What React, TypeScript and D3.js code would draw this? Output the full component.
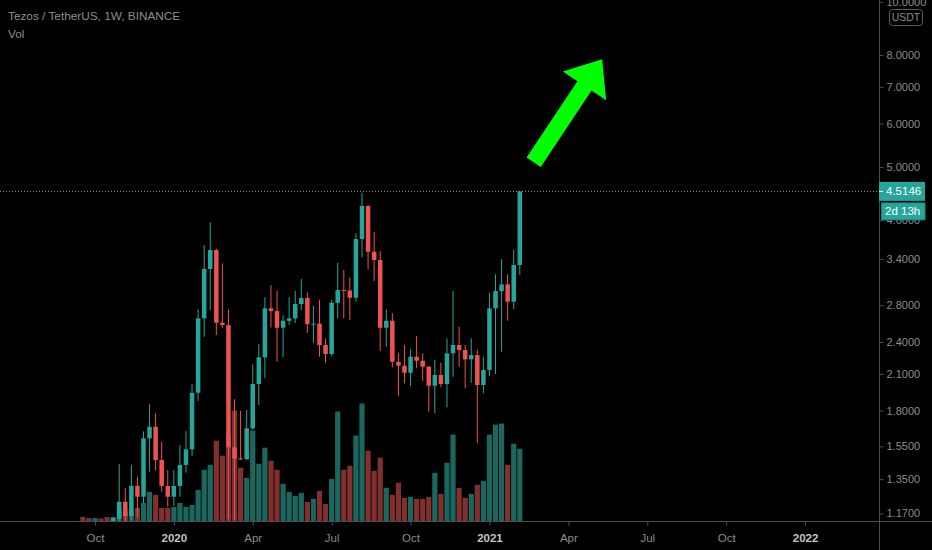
import React, { useEffect, useRef } from 'react';
import * as d3 from 'd3';

const W = 932;
const H = 550;

// weekly bars (Binance XTZ/USDT, 1W)
const weeks = [
  '2019-09-23', '2019-09-30', '2019-10-07', '2019-10-14', '2019-10-21', '2019-10-28', '2019-11-04', '2019-11-11',
  '2019-11-18', '2019-11-25', '2019-12-02', '2019-12-09', '2019-12-16', '2019-12-23', '2019-12-30', '2020-01-06',
  '2020-01-13', '2020-01-20', '2020-01-27', '2020-02-03', '2020-02-10', '2020-02-17', '2020-02-24', '2020-03-02',
  '2020-03-09', '2020-03-16', '2020-03-23', '2020-03-30', '2020-04-06', '2020-04-13', '2020-04-20', '2020-04-27',
  '2020-05-04', '2020-05-11', '2020-05-18', '2020-05-25', '2020-06-01', '2020-06-08', '2020-06-15', '2020-06-22',
  '2020-06-29', '2020-07-06', '2020-07-13', '2020-07-20', '2020-07-27', '2020-08-03', '2020-08-10', '2020-08-17',
  '2020-08-24', '2020-08-31', '2020-09-07', '2020-09-14', '2020-09-21', '2020-09-28', '2020-10-05', '2020-10-12',
  '2020-10-19', '2020-10-26', '2020-11-02', '2020-11-09', '2020-11-16', '2020-11-23', '2020-11-30', '2020-12-07',
  '2020-12-14', '2020-12-21', '2020-12-28', '2021-01-04', '2021-01-11', '2021-01-18', '2021-01-25', '2021-02-01',
  '2021-02-08',
];
const opens = [
  1.05, 0.98, 0.93, 0.99, 0.91, 0.88, 1.145, 1.228, 1.157, 1.313, 1.254, 1.602, 1.682, 1.463, 1.312, 1.254,
  1.312, 1.433, 1.53, 1.94, 2.651, 3.26, 3.53, 2.602, 2.577, 1.543, 1.473, 1.468, 1.671, 2.012, 2.251, 2.764,
  2.733, 2.548, 2.624, 2.651, 2.815, 2.886, 2.588, 2.592, 2.37, 2.282, 2.83, 2.985, 2.98, 2.89, 3.697, 4.246,
  3.505, 3.385, 2.548, 2.624, 2.209, 2.173, 2.11, 2.256, 2.219, 2.164, 1.998, 2.09, 2.012, 2.289, 2.37, 2.321,
  2.232, 2.272, 2.004, 2.134, 2.764, 2.972, 3.057, 2.842, 3.315,
];
const highs = [
  1.10, 1.03, 1.05, 1.02, 0.98, 1.15, 1.44, 1.30, 1.433, 1.364, 1.65, 1.848, 1.78, 1.58, 1.403, 1.403,
  1.558, 1.652, 2.012, 2.753, 3.605, 3.965, 3.55, 3.338, 2.753, 1.887, 1.799, 1.804, 2.186, 2.38, 2.895, 3.048,
  2.976, 2.685, 2.895, 2.976, 3.126, 2.956, 2.791, 2.862, 2.437, 2.862, 3.347, 3.246, 3.148, 3.786, 4.49, 4.26,
  3.812, 3.515, 2.753, 2.707, 2.294, 2.37, 2.328, 2.461, 2.289, 2.17, 2.225, 2.2, 2.437, 2.972, 2.559, 2.37,
  2.437, 2.321, 2.256, 2.951, 3.188, 3.395, 3.188, 3.53, 4.5146,
];
const lows = [
  0.93, 0.89, 0.90, 0.87, 0.82, 0.86, 1.10, 1.10, 1.137, 1.15, 1.22, 1.393, 1.40, 1.281, 1.203, 1.206,
  1.254, 1.387, 1.488, 1.874, 2.454, 2.745, 2.471, 2.55, 1.141, 1.137, 1.463, 1.462, 1.66, 1.843, 2.061, 2.55,
  2.209, 2.256, 2.577, 2.60, 2.745, 2.495, 2.393, 2.256, 2.20, 2.26, 2.651, 2.651, 2.632, 2.844, 3.424, 3.256,
  3.10, 2.311, 2.353, 2.158, 1.913, 2.018, 1.995, 2.149, 2.04, 1.792, 1.78, 1.985, 1.825, 2.075, 2.164, 1.976,
  2.023, 1.569, 1.935, 2.081, 2.099, 2.304, 2.624, 2.754, 3.179,
];
const closes = [
  0.98, 0.93, 0.99, 0.91, 0.88, 1.145, 1.228, 1.157, 1.313, 1.254, 1.602, 1.682, 1.463, 1.312, 1.254, 1.312,
  1.433, 1.53, 1.94, 2.651, 3.26, 3.53, 2.602, 2.577, 1.543, 1.473, 1.468, 1.671, 2.012, 2.251, 2.764, 2.733,
  2.548, 2.624, 2.651, 2.815, 2.886, 2.588, 2.592, 2.37, 2.282, 2.83, 2.985, 2.98, 2.89, 3.697, 4.246, 3.505,
  3.385, 2.548, 2.624, 2.209, 2.173, 2.11, 2.256, 2.219, 2.164, 1.998, 2.09, 2.012, 2.289, 2.37, 2.321, 2.232,
  2.272, 2.004, 2.134, 2.764, 2.972, 3.057, 2.842, 3.315, 4.5146,
];
// volume, millions XTZ (approx.)
const volumes = [
  4, 3, 3, 2.5, 4, 4, 12, 9, 12, 13, 18, 29, 26, 13, 13, 14,
  18, 14, 16, 31, 51, 56, 80, 65, 85, 110, 53, 43, 90, 57, 73, 60,
  51, 37, 29, 25, 28, 19, 22, 30, 17, 42, 109, 51, 55, 85, 117, 70,
  50, 63, 33, 26, 38, 23, 24, 22, 22, 24, 48, 27, 58, 86, 33, 23,
  27, 36, 40, 86, 96, 97, 56, 77, 72,
];

const priceTicks = [10, 8, 7, 6, 5, 4, 3.4, 2.8, 2.4, 2.1, 1.8, 1.55, 1.35, 1.17];
const timeTicks = ['2019-10-07', '2020-01-06', '2020-04-06', '2020-07-06', '2020-10-05', '2021-01-04', '2021-04-05', '2021-07-05', '2021-10-04', '2022-01-03'];
const timeTickLabels = ['Oct', '2020', 'Apr', 'Jul', 'Oct', '2021', 'Apr', 'Jul', 'Oct', '2022'];
const lastPrice = 4.5146;
const countdown = '2d 13h';
const arrowFrom = { date: '2021-02-24', price: 5.1 };
const arrowTo = { date: '2021-05-14', price: 7.86 };

const colors = { up: '#26a69a', down: '#ef5350', volUp: '#1b675f', volDown: '#82302d', axis: '#4a4d55', text: '#8c8c8c', arrow: '#00ff00' };
const font = "'Liberation Sans', Arial, sans-serif";

export default function App() {
  const ref = useRef<SVGSVGElement>(null);

  useEffect(() => {
    if (!ref.current) return;
    const svg = d3.select(ref.current);
    svg.selectAll('*').remove();

    const paneRight = 879;
    const paneBottom = 521;
    const parse = d3.utcParse('%Y-%m-%d');
    const bars = weeks.map((w, i) => ({ date: parse(w)!, o: opens[i], h: highs[i], l: lows[i], c: closes[i], v: volumes[i] }));

    const x = d3.scaleUtc().domain([bars[0].date, bars[bars.length - 1].date]).range([82.8, 519.8]);
    const y = d3.scaleLog().domain([1.17, 8]).range([513.3, 55]);
    const yv = d3.scaleLinear().domain([0, d3.max(bars, d => d.v)!]).range([paneBottom, paneBottom - 117.5]);

    svg.append('rect').attr('width', W).attr('height', H).attr('fill', '#000');
    svg.append('defs').append('clipPath').attr('id', 'pane').append('rect').attr('width', paneRight).attr('height', paneBottom);
    const pane = svg.append('g').attr('clip-path', 'url(#pane)');

    pane.selectAll('rect.vol').data(bars).enter().append('rect')
      .attr('x', d => x(d.date) - 2.6).attr('width', 5.2)
      .attr('y', d => yv(d.v)).attr('height', d => paneBottom - yv(d.v))
      .attr('fill', d => (d.c >= d.o ? colors.volUp : colors.volDown));

    pane.selectAll('line.wick').data(bars).enter().append('line')
      .attr('x1', d => x(d.date)).attr('x2', d => x(d.date))
      .attr('y1', d => y(d.h)).attr('y2', d => y(d.l))
      .attr('stroke', d => (d.c >= d.o ? colors.up : colors.down)).attr('stroke-width', 1);
    pane.selectAll('rect.body').data(bars).enter().append('rect')
      .attr('x', d => x(d.date) - 2.25).attr('width', 4.5)
      .attr('y', d => y(Math.max(d.o, d.c)))
      .attr('height', d => Math.max(1, Math.abs(y(d.o) - y(d.c))))
      .attr('fill', d => (d.c >= d.o ? colors.up : colors.down));

    // last price dotted line
    pane.append('line').attr('x1', 0).attr('x2', paneRight).attr('y1', y(lastPrice)).attr('y2', y(lastPrice))
      .attr('stroke', '#9a9ca3').attr('stroke-width', 1).attr('stroke-dasharray', '1,2');

    // arrow annotation
    const t = [x(parse(arrowFrom.date)!), y(arrowFrom.price)];
    const h = [x(parse(arrowTo.date)!), y(arrowTo.price)];
    const dx = h[0] - t[0], dy = h[1] - t[1], L = Math.hypot(dx, dy);
    const ux = dx / L, uy = dy / L, px = -uy, py = ux;
    const pt = (a: number, b: number) => `${t[0] + ux * a + px * b},${t[1] + uy * a + py * b}`;
    const headLen = 32, headW = 26, shaftW = 8.5;
    pane.append('polygon').attr('fill', colors.arrow).attr('points', [
      pt(0, -shaftW), pt(L - headLen, -shaftW), pt(L - headLen, -headW), pt(L, 0),
      pt(L - headLen, headW), pt(L - headLen, shaftW), pt(0, shaftW),
    ].join(' '));

    // borders
    svg.append('line').attr('x1', 0).attr('x2', W).attr('y1', paneBottom + 0.5).attr('y2', paneBottom + 0.5).attr('stroke', colors.axis);
    svg.append('line').attr('x1', paneRight + 0.5).attr('x2', paneRight + 0.5).attr('y1', 0).attr('y2', H).attr('stroke', colors.axis);

    const gx = svg.append('g').attr('transform', `translate(0,${paneBottom + 0.5})`)
      .call(d3.axisBottom(x).tickValues(timeTicks.map(s => parse(s)!)).tickSize(4).tickPadding(8).tickFormat((_, i) => timeTickLabels[i]))
      .attr('font-family', font).attr('font-size', 11.5);
    gx.select('.domain').remove();
    gx.selectAll('line').attr('stroke', colors.axis);
    gx.selectAll('text').attr('fill', (_, i) => (/^\d{4}$/.test(timeTickLabels[i]) ? '#c4c4c4' : colors.text))
      .attr('font-weight', (_, i) => (/^\d{4}$/.test(timeTickLabels[i]) ? 'bold' : 'normal'));

    const gy = svg.append('g').attr('transform', `translate(${paneRight + 0.5},0)`)
      .call(d3.axisRight(y).tickValues(priceTicks).tickSize(4).tickPadding(3).tickFormat(d3.format('.4f') as any))
      .attr('font-family', font).attr('font-size', 11);
    gy.select('.domain').remove();
    gy.selectAll('line').attr('stroke', colors.axis);
    gy.selectAll('text').attr('fill', colors.text);

    // currency badge
    svg.append('rect').attr('x', 889.5).attr('y', 9.5).attr('width', 33).attr('height', 16).attr('rx', 3)
      .attr('fill', '#000').attr('stroke', '#5a5d66');
    svg.append('text').attr('x', 906).attr('y', 17.5).attr('dy', '0.35em').attr('text-anchor', 'middle')
      .attr('font-family', font).attr('font-size', 10.5).attr('fill', colors.text).text('USDT');

    // last price + countdown labels
    const ly = y(lastPrice);
    svg.append('rect').attr('x', paneRight).attr('y', ly - 9.5).attr('width', 46).attr('height', 19).attr('fill', colors.up);
    svg.append('line').attr('x1', paneRight).attr('x2', paneRight + 4).attr('y1', ly).attr('y2', ly).attr('stroke', '#fff');
    svg.append('text').attr('x', 886).attr('y', ly).attr('dy', '0.35em').attr('font-family', font).attr('font-size', 11.5)
      .attr('fill', '#fff').text(lastPrice.toFixed(4));
    svg.append('rect').attr('x', 881.5).attr('y', ly + 11.5).attr('width', 43.5).attr('height', 17).attr('fill', colors.up)
      .attr('stroke', '#1d877d');
    svg.append('text').attr('x', 885).attr('y', ly + 20).attr('dy', '0.35em').attr('font-family', font).attr('font-size', 11.5)
      .attr('fill', '#fff').text(countdown);

    // legend
    svg.append('text').attr('x', 8).attr('y', 20).attr('font-family', font).attr('font-size', 11.8).attr('fill', '#8e8e8e')
      .text('Tezos / TetherUS, 1W, BINANCE');
    svg.append('text').attr('x', 8).attr('y', 38).attr('font-family', font).attr('font-size', 11.8).attr('fill', '#8e8e8e')
      .text('Vol');
  }, []);

  return <svg ref={ref} width={W} height={H} style={{ position: 'absolute', left: 0, top: 0, display: 'block' }} />;
}
